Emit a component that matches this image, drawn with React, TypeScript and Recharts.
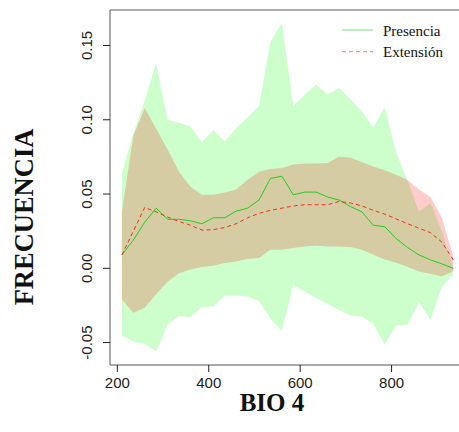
import React from 'react';
import {
  ComposedChart,
  Area,
  Line,
  XAxis,
  YAxis,
  ReferenceArea,
  Legend,
  Label,
} from 'recharts';

// BIO 4 values sampled along the curve
const bio4 = [
  210, 235, 260, 285, 310, 335, 360, 385, 410, 435, 460, 485, 510, 535, 560,
  585, 610, 635, 660, 685, 710, 735, 760, 785, 810, 835, 860, 885, 910, 935,
];

const presenciaMedia = [
  0.009, 0.019, 0.031, 0.0405, 0.033, 0.033, 0.032, 0.03, 0.034, 0.034,
  0.0385, 0.0405, 0.046, 0.0605, 0.062, 0.0495, 0.0513, 0.0513, 0.048, 0.046,
  0.0416, 0.038, 0.029, 0.028, 0.02, 0.014, 0.009, 0.0057, 0.003, 0.0,
];
const presenciaInf = [
  -0.045, -0.0495, -0.051, -0.056, -0.038, -0.032, -0.033, -0.026, -0.0257, -0.0185,
  -0.0185, -0.019, -0.022, -0.034, -0.042, -0.0115, -0.0157, -0.02, -0.024, -0.028,
  -0.032, -0.0324, -0.0375, -0.0515, -0.0385, -0.038, -0.0228, -0.0347, -0.0127, -0.004,
];
const presenciaSup = [
  0.064, 0.091, 0.113, 0.138, 0.1, 0.098, 0.0955, 0.0847, 0.0933, 0.0854,
  0.0944, 0.1015, 0.1094, 0.1527, 0.1652, 0.1095, 0.117, 0.1236, 0.117, 0.1215,
  0.114, 0.1056, 0.095, 0.1085, 0.078, 0.059, 0.038, 0.044, 0.025, 0.0,
];

const extensionMedia = [
  0.009, 0.025, 0.041, 0.038, 0.0345, 0.0315, 0.029, 0.0257, 0.026, 0.0275,
  0.03, 0.034, 0.037, 0.039, 0.0405, 0.042, 0.0428, 0.0428, 0.0428, 0.045,
  0.044, 0.042, 0.039, 0.0365, 0.0333, 0.03, 0.027, 0.024, 0.0176, 0.0057,
];
const extensionInf = [
  -0.021, -0.030, -0.0265, -0.0175, -0.009, -0.0033, -0.0008, 0.0008, 0.0017, 0.0035,
  0.0046, 0.0062, 0.0069, 0.0125, 0.0125, 0.0136, 0.0147, 0.0152, 0.0147, 0.0147,
  0.0143, 0.0125, 0.0091, 0.006, 0.0037, 0.001, -0.0021, -0.0036, -0.0055, -0.002,
];
const extensionSup = [
  0.038, 0.089, 0.108, 0.094, 0.08, 0.065, 0.055, 0.0495, 0.0495, 0.051,
  0.053, 0.0596, 0.065, 0.0668, 0.0675, 0.0699, 0.0706, 0.0706, 0.0709, 0.0752,
  0.0745, 0.0715, 0.0686, 0.066, 0.063, 0.0595, 0.053, 0.048, 0.034, 0.008,
];

const xTicks = [200, 400, 600, 800];
const yTicks = [-0.05, 0, 0.05, 0.1, 0.15];

const series = [
  { name: 'Presencia', color: '#22cc22', dash: undefined },
  { name: 'Extensión', color: '#f2301e', dash: '4 3' },
];

const data = bio4.map((x, i) => ({
  x,
  presencia: presenciaMedia[i],
  presenciaBanda: [presenciaInf[i], presenciaSup[i]],
  extension: extensionMedia[i],
  extensionBanda: [extensionInf[i], extensionSup[i]],
}));

const sans = '"Liberation Sans", Arial, Helvetica, sans-serif';
const serif = '"Liberation Serif", "Times New Roman", serif';

const YTick = ({ y, payload }: any) => (
  <text
    x={92}
    y={y}
    transform={`rotate(-90, 92, ${y})`}
    textAnchor="middle"
    fontSize={15}
    fontFamily={sans}
    fill="#222"
  >
    {Number(payload.value).toFixed(2)}
  </text>
);

const Leyenda = () => (
  <svg width={130} height={50}>
    {series.map((s, i) => (
      <g key={s.name}>
        <line
          x1={2}
          x2={33}
          y1={10 + i * 21.7}
          y2={10 + i * 21.7}
          stroke={s.color}
          strokeOpacity={0.6}
          strokeDasharray={s.dash}
        />
        <text x={43} y={15.5 + i * 21} fontSize={15} fontFamily={serif} fill="#111">
          {s.name}
        </text>
      </g>
    ))}
  </svg>
);

export default function App() {
  return (
    <div
      style={{
        position: 'fixed',
        left: 0,
        top: 0,
        width: 459,
        height: 432,
        overflow: 'hidden',
        background: '#fff',
      }}
    >
      <ComposedChart
        width={480}
        height={432}
        data={data}
        margin={{ top: 10, right: 13, bottom: 0, left: 0 }}
      >
        <XAxis
          type="number"
          dataKey="x"
          domain={[184, 965]}
          ticks={xTicks}
          interval={0}
          allowDataOverflow
          axisLine={false}
          tickSize={7}
          tickMargin={5}
          tickLine={{ stroke: '#222' }}
          tick={{ fontSize: 15, fontFamily: sans, fill: '#222' }}
          height={67}
        >
          <Label
            content={() => (
              <text
                x={272}
                y={411}
                textAnchor="middle"
                fontSize={25}
                fontWeight="bold"
                fontFamily={serif}
                fill="#111"
              >
                BIO 4
              </text>
            )}
          />
        </XAxis>
        <YAxis
          type="number"
          domain={[-0.0651, 0.1739]}
          ticks={yTicks}
          interval={0}
          allowDataOverflow
          axisLine={false}
          tickSize={7}
          tickLine={{ stroke: '#222' }}
          tick={<YTick />}
          width={110}
        >
          <Label
            content={() => (
              <text
                x={33}
                y={217}
                transform="rotate(-90, 33, 217)"
                textAnchor="middle"
                fontSize={26.5}
                fontWeight="bold"
                fontFamily={serif}
                fill="#111"
              >
                FRECUENCIA
              </text>
            )}
          />
        </YAxis>
        <Area
          type="linear"
          dataKey="presenciaBanda"
          fill="#00ff00"
          fillOpacity={0.2}
          stroke="none"
          isAnimationActive={false}
        />
        <Area
          type="linear"
          dataKey="extensionBanda"
          fill="#ff0000"
          fillOpacity={0.2}
          stroke="none"
          isAnimationActive={false}
        />
        <Line
          type="linear"
          dataKey="presencia"
          stroke={series[0].color}
          strokeWidth={1}
          dot={false}
          isAnimationActive={false}
        />
        <Line
          type="linear"
          dataKey="extension"
          stroke={series[1].color}
          strokeWidth={1}
          strokeDasharray="4 3"
          dot={false}
          isAnimationActive={false}
        />
        <ReferenceArea
          x1={184}
          x2={965}
          y1={-0.0651}
          y2={0.1739}
          fill="none"
          stroke="#555"
          strokeWidth={1}
          ifOverflow="visible"
        />
        <Legend
          layout="vertical"
          verticalAlign="middle"
          align="center"
          wrapperStyle={{ left: 340, top: 20, width: 130, height: 50 }}
          content={() => <Leyenda />}
        />
      </ComposedChart>
    </div>
  );
}
